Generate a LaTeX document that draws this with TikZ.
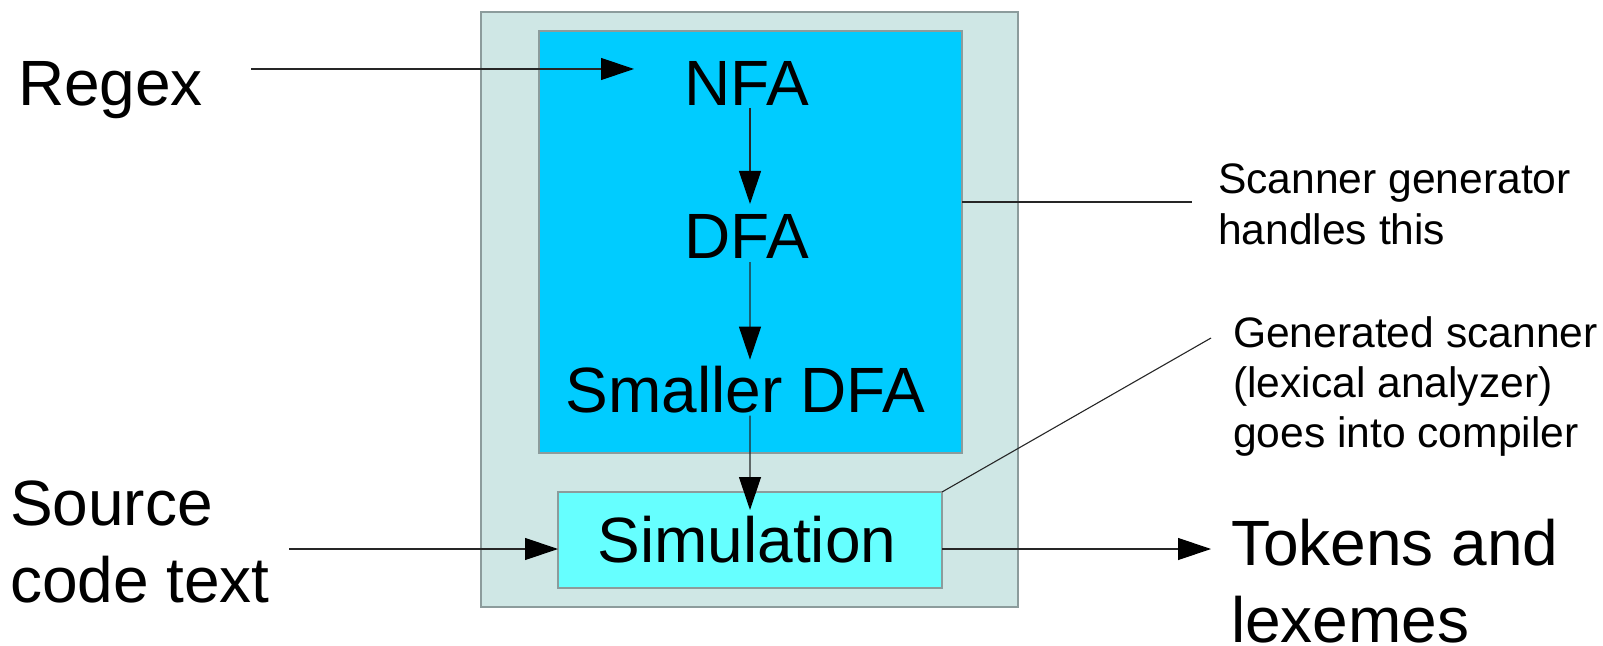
\documentclass[tikz,border=0pt]{standalone}
\usepackage{fontspec}
\setmainfont{Liberation Sans}
\usetikzlibrary{arrows.meta,calc}
\definecolor{outerfill}{HTML}{CFE7E5}
\definecolor{innerfill}{HTML}{00CCFF}
\definecolor{simfill}{HTML}{66FFFF}
\definecolor{boxline}{HTML}{8C9C9C}
\tikzset{
  big/.style={font=\fontsize{64bp}{77bp}\selectfont, inner sep=0pt, outer sep=0pt},
  small/.style={font=\fontsize{42.6bp}{50bp}\selectfont, inner sep=0pt, outer sep=0pt, align=left},
  panel/.style={draw=boxline, line width=1.3bp, inner sep=0pt, outer sep=0pt},
  arr/.style={draw=black!85, line width=1.2bp, -{Triangle[length=33bp,width=22bp,color=black]}},
  plain/.style={draw=black!85, line width=1.1bp}
}
\begin{document}
\begin{tikzpicture}[x=1bp,y=-1bp]
\useasboundingbox (0,0) rectangle (1603,646);
% boxes
\node[panel, fill=outerfill, minimum width=537bp, minimum height=595bp] (outer) at (749.5,309.5) {};
\node[panel, fill=innerfill, minimum width=423bp, minimum height=422bp] (inner) at (750.5,242) {};
\node[panel, fill=simfill, minimum width=384bp, minimum height=96bp, big] (sim) at (750,540) {\hspace*{-6bp}Simulation};
% texts
\node[big, anchor=base west] (regex) at (18,106) {Regex};
\node[big, anchor=base] (nfa) at (747,106) {NFA};
\node[big, anchor=base] (dfa) at (747,258) {DFA};
\node[big, anchor=base] (sdfa) at (745.5,412) {Smaller DFA};
\node[big, anchor=base west, align=left] (src) at (10,602) {Source\\code text};
\node[big, anchor=base west, align=left] (tok) at (1231,642) {Tokens and\\lexemes};
\node[small, anchor=base west] (scan) at (1218,244) {Scanner generator\\handles this};
\node[small, anchor=base west] (gen) at (1233,447) {Generated scanner\\(lexical analyzer)\\goes into compiler};
% free ends
\coordinate (regexout) at (251,69);
\coordinate (nfain) at (634,69);
\coordinate (srcout) at (289,549);
\coordinate (tokin) at (1211,549);
\coordinate (scanend) at (1192,202);
\coordinate (genend) at (1211,338);
% connectors
\draw[arr] (regexout) -- (nfain);
\draw[arr] ($(nfa.south)+(3,2)$) -- ($(dfa.north)+(3,-10)$);
\draw[arr] ($(dfa.south)+(3,4)$) -- ($(sdfa.north)+(4.5,-6)$);
\draw[arr] ($(sdfa.south)+(4.5,3)$) -- ($(sim.north)+(0,18)$);
\draw[arr] (srcout) -- (sim.west |- srcout);
\draw[arr] (sim.east |- tokin) -- (tokin);
\draw[plain] (inner.east |- scanend) -- (scanend);
\draw[plain] (sim.north east) -- (genend);
\end{tikzpicture}
\end{document}
